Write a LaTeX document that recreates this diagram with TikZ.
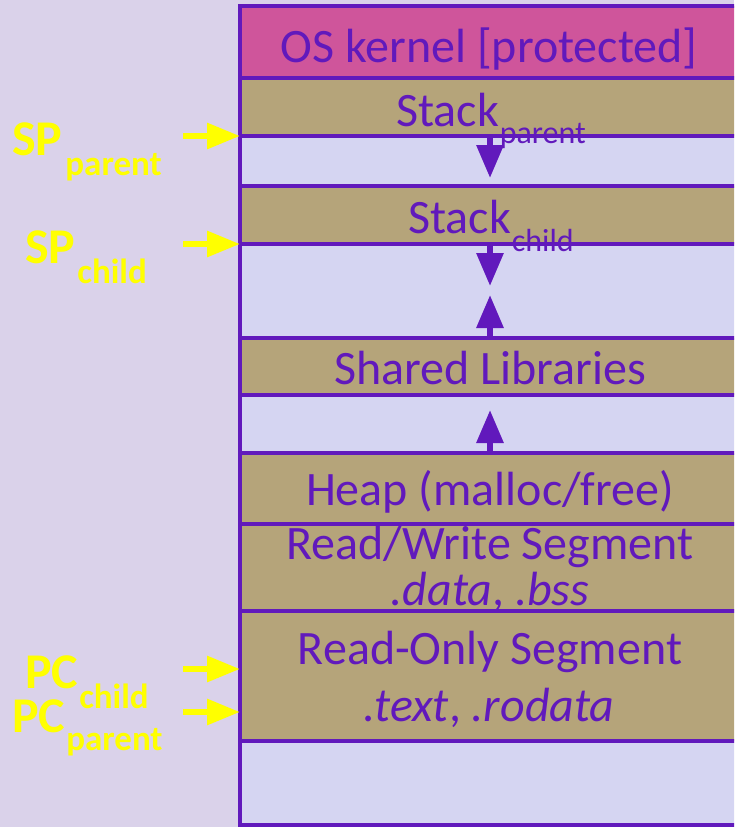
\documentclass[tikz,border=0pt]{standalone}
\usepackage{fontspec}
\setmainfont{Carlito}
\usetikzlibrary{arrows.meta}
\definecolor{bgc}{RGB}{218,210,234}
\definecolor{kern}{RGB}{207,85,155}
\definecolor{tanc}{RGB}{181,164,122}
\definecolor{gapc}{RGB}{213,213,242}
\definecolor{purp}{RGB}{97,25,188}
\definecolor{yel}{RGB}{255,255,0}
\begin{document}
\begin{tikzpicture}[x=1pt,y=-1pt,
  segline/.style={draw=purp,line width=4pt},
  segtext/.style={text=purp,inner sep=0pt,font=\fontsize{48}{56}\selectfont},
  ylab/.style={text=yel,inner sep=0pt,anchor=base west,font=\bfseries\fontsize{50}{60}\selectfont},
  purarrow/.style={draw=purp,line width=6pt,-{Triangle[length=33pt,width=26pt]}},
  yelarrow/.style={draw=yel,line width=6pt,-{Triangle[length=33pt,width=25pt]}}]
\useasboundingbox (0,0) rectangle (734,827);
\fill[bgc] (0,0) rectangle (734,827);
\clip (0,0) rectangle (734,827);
% fills
\fill[kern] (240,6) rectangle (760,78);
\fill[tanc] (240,78) rectangle (760,136);
\fill[gapc] (240,136) rectangle (760,186);
\fill[tanc] (240,186) rectangle (760,244);
\fill[gapc] (240,244) rectangle (760,338);
\fill[tanc] (240,338) rectangle (760,395);
\fill[gapc] (240,395) rectangle (760,453);
\fill[tanc] (240,453) rectangle (760,741);
\fill[gapc] (240,741) rectangle (760,825);
% borders
\draw[segline] (760,6) -- (240,6) -- (240,825) -- (760,825);
\foreach \yy in {78,136,186,244,338,395,453,524,611,741}
  \draw[segline] (240,\yy) -- (760,\yy);
% purple growth arrows
\coordinate (a1s) at (490,136); \coordinate (a1e) at (490,178);
\coordinate (a2s) at (490,244); \coordinate (a2e) at (490,286);
\coordinate (a3s) at (490,338); \coordinate (a3e) at (490,295);
\coordinate (a4s) at (490,453); \coordinate (a4e) at (490,410);
\draw[purarrow] (a1s) -- (a1e);
\draw[purarrow] (a2s) -- (a2e);
\draw[purarrow] (a3s) -- (a3e);
\draw[purarrow] (a4s) -- (a4e);
% segment texts
\node[segtext,anchor=base] (kernel) at (489,62) {OS kernel [protected]};
\node[segtext,anchor=base west] (stackp) at (396,126) {Stack\kern1pt\raisebox{-17pt}{\fontsize{32}{38}\selectfont parent}};
\node[segtext,anchor=base west] (stackc) at (408,233) {Stack\kern1pt\raisebox{-18pt}{\fontsize{32}{38}\selectfont child}};
\node[segtext,anchor=base] (shlib) at (490,384) {Shared Libraries};
\node[segtext,anchor=base] (heap) at (490,505) {Heap (malloc/free)};
\node[segtext,anchor=base] (rw) at (490,559) {Read/Write Segment};
\node[segtext,anchor=base] (rwsub) at (490,605) {\textit{.data}, \textit{.bss}};
\node[segtext,anchor=base] (ro) at (490,664) {Read-Only Segment};
\node[segtext,anchor=base] (rosub) at (489,721) {\textit{.text}, \textit{.rodata}};
% yellow pointers
\node[ylab] (spp) at (12,155) {SP\kern3pt\raisebox{-20pt}{\fontsize{35}{42}\selectfont parent}};
\node[ylab] (spc) at (25,263) {SP\kern2pt\raisebox{-20pt}{\fontsize{35}{42}\selectfont child}};
\node[ylab] (pcc) at (25,688) {PC\kern1pt\raisebox{-20pt}{\fontsize{35}{42}\selectfont child}};
\node[ylab] (pcp) at (12,732) {PC\kern1pt\raisebox{-18pt}{\fontsize{35}{42}\selectfont parent}};
\coordinate (y1s) at (183,136); \coordinate (y1e) at (240,136);
\coordinate (y2s) at (183,244); \coordinate (y2e) at (240,244);
\coordinate (y3s) at (183,669); \coordinate (y3e) at (240,669);
\coordinate (y4s) at (183,712); \coordinate (y4e) at (240,712);
\draw[yelarrow] (y1s) -- (y1e);
\draw[yelarrow] (y2s) -- (y2e);
\draw[yelarrow] (y3s) -- (y3e);
\draw[yelarrow] (y4s) -- (y4e);
\end{tikzpicture}
\end{document}
